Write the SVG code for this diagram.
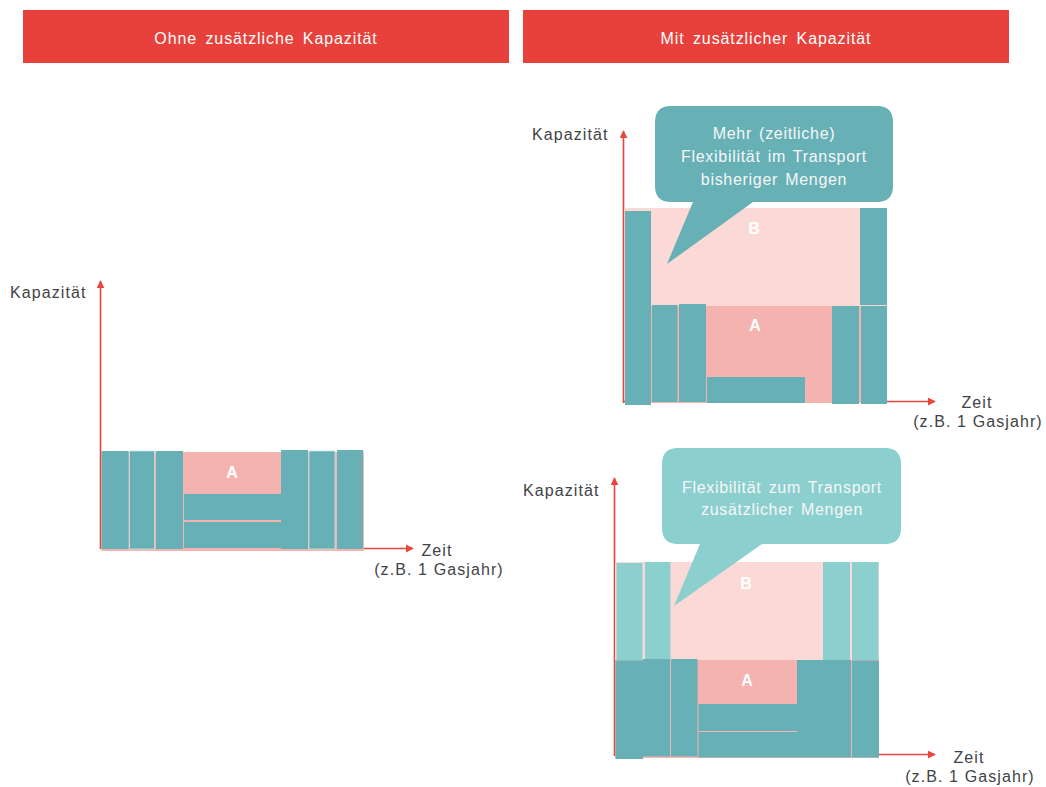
<svg xmlns="http://www.w3.org/2000/svg" width="1046" height="787" viewBox="0 0 1046 787">
<defs>
<marker id="arr" viewBox="0 0 10 10" refX="9" refY="5" markerWidth="8" markerHeight="8" markerUnits="userSpaceOnUse" orient="auto"><path d="M0,0 L10,5 L0,10 Z" fill="#E8453C"/></marker>
</defs>
<style>
.hdr{fill:#E8403A}
.hdrt{font-family:"Liberation Sans",Arial,sans-serif;font-size:16px;fill:#fff;text-anchor:middle;letter-spacing:0.9px;word-spacing:3px}
.lbl{font-family:"Liberation Sans",Arial,sans-serif;font-size:16px;fill:#3F4348;letter-spacing:1.1px}
.mid{text-anchor:middle}
.t{fill:#66B0B6}
.lt{fill:#8CCFCF}
.pa{fill:#F5B3AF}
.pb{fill:#FAD9D6}
.ab{font-family:"Liberation Sans",Arial,sans-serif;font-size:16px;font-weight:bold;fill:#fff;text-anchor:middle}
.ct{font-family:"Liberation Sans",Arial,sans-serif;font-size:16px;fill:#F7F7F7;text-anchor:middle;letter-spacing:0.7px;word-spacing:2px}
.ax{stroke:#E8453C;stroke-width:1.6;fill:none;marker-end:url(#arr)}
</style>
<rect width="1046" height="787" fill="#fff"/>

<g id="header-left">
<rect class="hdr" x="23" y="10" width="486" height="53"/>
<text class="hdrt" x="266" y="44">Ohne zusätzliche Kapazität</text>
</g>
<g id="header-right">
<rect class="hdr" x="523" y="10" width="486" height="53"/>
<text class="hdrt" x="766" y="44">Mit zusätzlicher Kapazität</text>
</g>

<g id="connectors">
<path class="ax" d="M100.5,549 V281"/>
<path class="ax" d="M100.5,548.5 H413"/>
<path class="ax" d="M623.5,403 V131"/>
<path class="ax" d="M623.5,401.5 H935"/>
<path class="ax" d="M614.5,756 V478"/>
<path class="ax" d="M614.5,754.5 H935"/>
</g>

<g id="chart-left">
<rect class="pa" x="101" y="452" width="263" height="99"/>
<rect class="t" x="101.5" y="451" width="27" height="98"/>
<rect class="t" x="129.5" y="451" width="25" height="98" stroke="#C9E2E3" stroke-width="0.8"/>
<rect class="t" x="156" y="451" width="27" height="98"/>
<rect class="t" x="184" y="494" width="97" height="26"/>
<rect class="t" x="184" y="522" width="97" height="26"/>
<rect class="t" x="281" y="450" width="27" height="99"/>
<rect class="t" x="309" y="451" width="26" height="98" stroke="#C9E2E3" stroke-width="0.8"/>
<rect class="t" x="337" y="450" width="26" height="99"/>
<text class="ab" x="232" y="478">A</text>
</g>

<g id="chart-top-right">
<rect class="pb" x="625" y="208" width="262" height="98"/>
<rect class="pa" x="651" y="306" width="236" height="97"/>
<rect class="t" x="625" y="211" width="26" height="194"/>
<rect class="t" x="652" y="305" width="25.5" height="97"/>
<rect class="t" x="679" y="304" width="27" height="98"/>
<rect class="t" x="707" y="377" width="98" height="26"/>
<rect class="t" x="832" y="306" width="27" height="98"/>
<rect class="t" x="861" y="306" width="26" height="98"/>
<rect class="t" x="860" y="208" width="27" height="97"/>
<text class="ab" x="754" y="234">B</text>
<text class="ab" x="755" y="331">A</text>
</g>

<g id="chart-bottom-right">
<rect class="pb" x="615" y="562" width="264" height="99"/>
<rect class="pa" x="615" y="660" width="264" height="98"/>
<rect class="lt" x="616.5" y="563" width="26" height="97.5"/>
<rect class="lt" x="645" y="562" width="25.5" height="97.5"/>
<rect class="lt" x="823" y="562" width="27" height="98"/>
<rect class="lt" x="852" y="562" width="26.5" height="98"/>
<rect class="t" x="615.5" y="660.5" width="27.5" height="98.5"/>
<rect class="t" x="643" y="659" width="27" height="97.5"/>
<rect class="t" x="671" y="659" width="26.5" height="97.5"/>
<rect class="t" x="698.5" y="704" width="98.5" height="27"/>
<rect class="t" x="698.5" y="732" width="98.5" height="25.5"/>
<rect class="t" x="797" y="660" width="54" height="97.5"/>
<rect class="t" x="852" y="660.5" width="27" height="97"/>
<text class="ab" x="746" y="589">B</text>
<text class="ab" x="747" y="686">A</text>
</g>

<g id="labels-left">
<text class="lbl" x="10" y="298">Kapazität</text>
<text class="lbl mid" x="437" y="556">Zeit</text>
<text class="lbl mid" x="439" y="575">(z.B. 1 Gasjahr)</text>
</g>
<g id="labels-top-right">
<text class="lbl" x="532" y="140">Kapazität</text>
<text class="lbl mid" x="977" y="408">Zeit</text>
<text class="lbl mid" x="978" y="427">(z.B. 1 Gasjahr)</text>
</g>
<g id="labels-bottom-right">
<text class="lbl" x="523" y="496">Kapazität</text>
<text class="lbl mid" x="969" y="763">Zeit</text>
<text class="lbl mid" x="970" y="782">(z.B. 1 Gasjahr)</text>
</g>

<g id="callout-1">
<path fill="#66B0B6" d="M671,106 H877 Q893,106 893,122 V186 Q893,202 877,202 H753 L667,264 L693,202 H671 Q655,202 655,186 V122 Q655,106 671,106 Z"/>
<text class="ct" x="774" y="139">Mehr (zeitliche)</text>
<text class="ct" x="774" y="162">Flexibilität im Transport</text>
<text class="ct" x="774" y="185">bisheriger Mengen</text>
</g>
<g id="callout-2">
<path fill="#8CCFCF" d="M678,448 H885 Q901,448 901,464 V528 Q901,544 885,544 H762 L674,606 L700,544 H678 Q662,544 662,528 V464 Q662,448 678,448 Z"/>
<text class="ct" x="782" y="493">Flexibilität zum Transport</text>
<text class="ct" x="782" y="515">zusätzlicher Mengen</text>
</g>
</svg>
